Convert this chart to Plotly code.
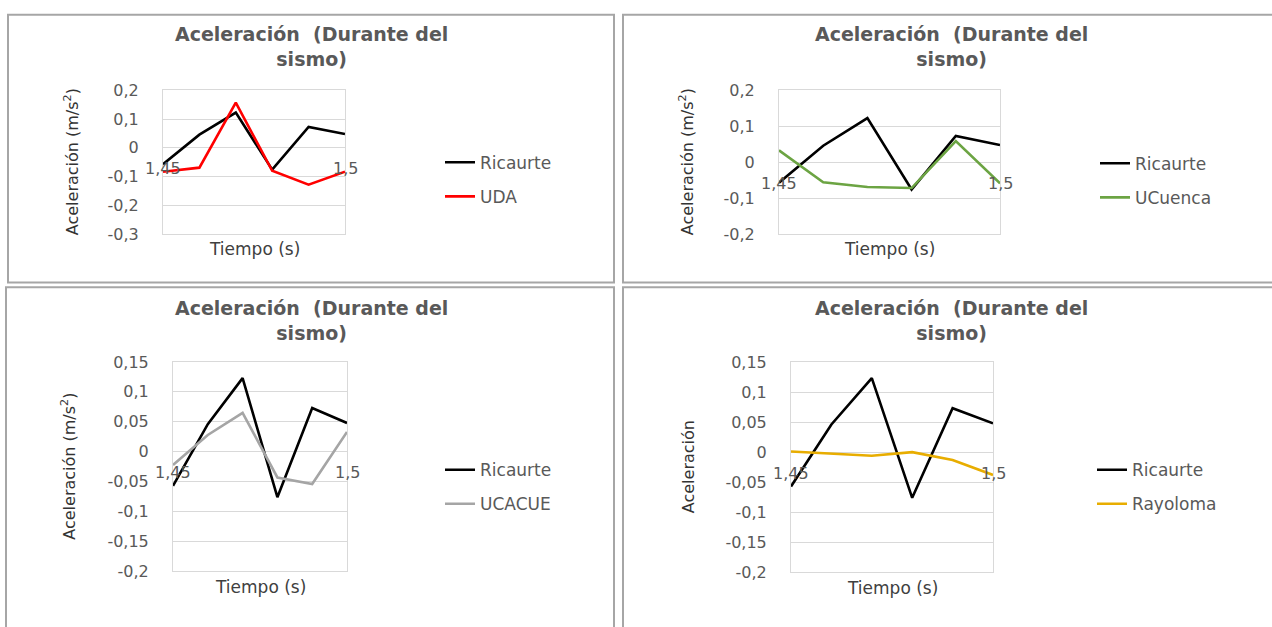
import plotly.graph_objects as go

# ---------------- data ----------------
tiempo = [1.45, 1.46, 1.47, 1.48, 1.49, 1.50]
ricaurte = [-0.057, 0.046, 0.123, -0.076, 0.073, 0.048]
uda = [-0.083, -0.069, 0.158, -0.080, -0.128, -0.083]
ucuenca = [0.033, -0.056, -0.069, -0.072, 0.059, -0.059]
ucacue = [-0.022, 0.028, 0.065, -0.043, -0.054, 0.033]
rayoloma = [0.001, -0.002, -0.006, 0.000, -0.013, -0.038]

x_tickvals = [1.45, 1.50]
x_ticktext = ["1,45", "1,5"]

y_tickvals_a = [0.2, 0.1, 0, -0.1, -0.2, -0.3]
y_ticktext_a = ["0,2", "0,1", "0", "-0,1", "-0,2", "-0,3"]
y_tickvals_b = [0.2, 0.1, 0, -0.1, -0.2]
y_ticktext_b = ["0,2", "0,1", "0", "-0,1", "-0,2"]
y_tickvals_c = [0.15, 0.1, 0.05, 0, -0.05, -0.1, -0.15, -0.2]
y_ticktext_c = ["0,15", "0,1", "0,05", "0", "-0,05", "-0,1", "-0,15", "-0,2"]

chart_title = "Aceleración  (Durante del<br>sismo)"
x_title = "Tiempo (s)"
y_title_full = "Aceleración (m/s<sup>2</sup>)"
y_title_short = "Aceleración"

# ---------------- layout geometry (pixels) ----------------
W, H = 1272, 627
FONT = "DejaVu Sans"
TXT = "#595959"
GRID = "#d9d9d9"

def fx(px):
    return px / W

def fy(py):
    return 1 - py / H

panels = [
    dict(plot=(163, 345, 84, 232), yr=(-0.3, 0.2), tv=y_tickvals_a, tt=y_ticktext_a,
         other=uda, oname="UDA", ocolor="#ff0000", ytitle=y_title_full, ytx=71,
         leg=(440, 140), box=(8, 614, 6, 282), cx=311, ty=39),
    dict(plot=(779, 1000, 84, 232), yr=(-0.2, 0.2), tv=y_tickvals_b, tt=y_ticktext_b,
         other=ucuenca, oname="UCuenca", ocolor="#6ca443", ytitle=y_title_full, ytx=686,
         leg=(1095, 141), box=(623, 1280, 6, 282), cx=951, ty=39),
    dict(plot=(173, 347, 364, 580), yr=(-0.2, 0.15), tv=y_tickvals_c, tt=y_ticktext_c,
         other=ucacue, oname="UCACUE", ocolor="#a5a5a5", ytitle=y_title_full, ytx=69,
         leg=(440, 457), box=(6, 614, 287, 640), cx=311, ty=321),
    dict(plot=(791, 993, 364, 581), yr=(-0.2, 0.15), tv=y_tickvals_c, tt=y_ticktext_c,
         other=rayoloma, oname="Rayoloma", ocolor="#e8ad00", ytitle=y_title_short, ytx=688,
         leg=(1092, 457), box=(623, 1280, 287, 640), cx=951, ty=321),
]

fig = go.Figure()
annotations = []
shapes = []

for i, p in enumerate(panels):
    n = "" if i == 0 else str(i + 1)
    xa, ya = "x" + n, "y" + n
    leg = "legend" + n
    x0, x1, y0, y1 = p["plot"]

    fig.add_trace(go.Scatter(x=tiempo, y=ricaurte, mode="lines", name="Ricaurte",
                             line=dict(color="#000000", width=2.6),
                             xaxis=xa, yaxis=ya, legend=leg, legendgroup=f"r{i}"))
    fig.add_trace(go.Scatter(x=tiempo, y=p["other"], mode="lines", name=p["oname"],
                             line=dict(color=p["ocolor"], width=2.6),
                             xaxis=xa, yaxis=ya, legend=leg, legendgroup=f"o{i}"))

    fig.layout["xaxis" + n] = dict(
        domain=[fx(x0), fx(x1)], anchor=ya, range=[1.45, 1.50],
        showgrid=False, zeroline=False, showticklabels=False, ticks="",
        showline=True, linecolor=GRID, linewidth=1, mirror=True,
    )
    fig.layout["yaxis" + n] = dict(
        domain=[fy(y1), fy(y0)], anchor=xa, range=list(p["yr"]),
        tickvals=p["tv"], ticktext=p["tt"],
        showgrid=True, gridcolor=GRID, gridwidth=1, zeroline=False,
        showline=True, linecolor=GRID, linewidth=1, mirror=True,
        ticks="outside", ticklen=20, tickcolor="rgba(0,0,0,0)",
        tickfont=dict(family=FONT, size=16, color=TXT),
    )

    # x tick labels sitting just under the zero line
    for tv, tt in zip(x_tickvals, x_ticktext):
        annotations.append(dict(x=tv, y=0, xref=xa, yref=ya, text=tt, showarrow=False,
                                xanchor="center", yanchor="middle", yshift=-21,
                                font=dict(family=FONT, size=16, color=TXT)))

    # axis titles
    annotations.append(dict(x=(x0 + x1) / 2 / W, y=fy(y1 + 16), xref="paper", yref="paper",
                            text=x_title, showarrow=False, xanchor="center", yanchor="middle",
                            font=dict(family=FONT, size=17, color="#404040")))
    annotations.append(dict(x=fx(p["ytx"]), y=fy((y0 + y1) / 2), xref="paper", yref="paper",
                            text=p["ytitle"], showarrow=False, textangle=-90,
                            xanchor="center", yanchor="middle",
                            font=dict(family=FONT, size=16, color="#333333")))

    # chart title (two lines)
    annotations.append(dict(x=fx(p["cx"]), y=fy(p["ty"]), xref="paper", yref="paper",
                            text=chart_title, showarrow=False, xanchor="center", yanchor="middle",
                            font=dict(family=FONT, size=19, color=TXT, weight="bold")))

    # chart-area frame
    bx0, bx1, by0, by1 = p["box"]
    shapes.append(dict(type="rect", xref="paper", yref="paper",
                       x0=fx(bx0), x1=fx(bx1), y0=fy(by1), y1=fy(by0),
                       line=dict(color="#a6a6a6", width=2), layer="below"))

    lx, ly = p["leg"]
    fig.layout[leg] = dict(x=fx(lx), y=fy(ly), xanchor="left", yanchor="top",
                           font=dict(family=FONT, size=17, color=TXT),
                           bgcolor="rgba(0,0,0,0)", traceorder="grouped",
                           tracegroupgap=9, itemwidth=30)

fig.update_layout(
    width=W, height=H, margin=dict(l=0, r=0, t=0, b=0),
    paper_bgcolor="white", plot_bgcolor="white",
    annotations=annotations, shapes=shapes, showlegend=True,
)

pin = ("document.body.style.margin='0';"
       "var d=document.getElementById('{plot_id}');"
       "d.style.position='fixed';d.style.left='0px';d.style.top='0px';")
fig.write_html("out.html", post_script=pin, config={"displayModeBar": False})
